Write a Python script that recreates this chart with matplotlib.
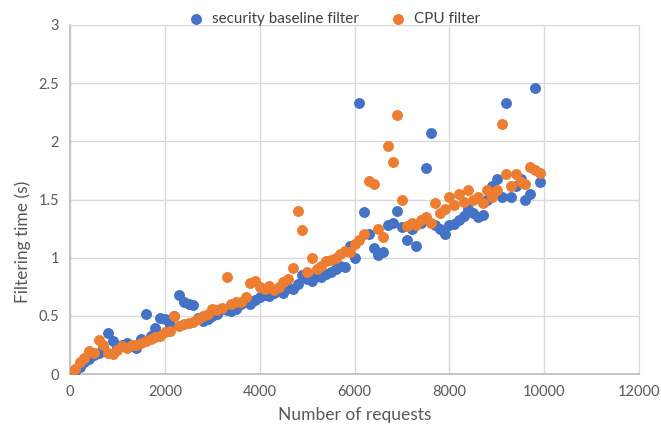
import matplotlib
matplotlib.use("Agg")
import matplotlib.pyplot as plt

# request counts (same sampling for both filters)
requests = [
    0, 100, 200, 300, 400, 500, 600, 700, 800, 900,
    1000, 1100, 1200, 1300, 1400, 1500, 1600, 1700, 1800, 1900,
    2000, 2100, 2200, 2300, 2400, 2500, 2600, 2700, 2800, 2900,
    3000, 3100, 3200, 3300, 3400, 3500, 3600, 3700, 3800, 3900,
    4000, 4100, 4200, 4300, 4400, 4500, 4600, 4700, 4800, 4900,
    5000, 5100, 5200, 5300, 5400, 5500, 5600, 5700, 5800, 5900,
    6000, 6100, 6200, 6300, 6400, 6500, 6600, 6700, 6800, 6900,
    7000, 7100, 7200, 7300, 7400, 7500, 7600, 7700, 7800, 7900,
    8000, 8100, 8200, 8300, 8400, 8500, 8600, 8700, 8800, 8900,
    9000, 9100, 9200, 9300, 9400, 9500, 9600, 9700, 9800, 9900,
]

security_baseline = [
    0.00, 0.03, 0.06, 0.10, 0.13, 0.16, 0.18, 0.22, 0.35, 0.28,
    0.22, 0.25, 0.27, 0.24, 0.22, 0.30, 0.52, 0.33, 0.40, 0.48,
    0.47, 0.42, 0.50, 0.68, 0.62, 0.60, 0.59, 0.48, 0.46, 0.47,
    0.50, 0.52, 0.56, 0.55, 0.54, 0.56, 0.60, 0.62, 0.60, 0.64,
    0.66, 0.68, 0.67, 0.70, 0.72, 0.70, 0.74, 0.73, 0.77, 0.85,
    0.82, 0.80, 0.84, 0.83, 0.86, 0.88, 0.90, 0.93, 0.92, 1.10,
    1.00, 2.33, 1.39, 1.20, 1.08, 1.02, 1.05, 1.28, 1.30, 1.40,
    1.26, 1.15, 1.25, 1.10, 1.30, 1.77, 2.07, 1.28, 1.25, 1.20,
    1.28, 1.29, 1.32, 1.36, 1.42, 1.38, 1.35, 1.37, 1.50, 1.62,
    1.68, 1.52, 2.33, 1.52, 1.62, 1.68, 1.50, 1.55, 2.46, 1.65,
]

cpu_filter = [
    0.01, 0.04, 0.10, 0.14, 0.20, 0.18, 0.29, 0.25, 0.18, 0.17,
    0.21, 0.24, 0.22, 0.25, 0.25, 0.27, 0.28, 0.30, 0.32, 0.33,
    0.36, 0.37, 0.50, 0.41, 0.43, 0.44, 0.45, 0.47, 0.50, 0.52,
    0.56, 0.55, 0.57, 0.83, 0.60, 0.62, 0.62, 0.66, 0.78, 0.80,
    0.75, 0.73, 0.76, 0.72, 0.75, 0.79, 0.82, 0.91, 1.40, 1.24,
    0.88, 1.00, 0.90, 0.93, 0.97, 0.98, 1.00, 1.03, 1.06, 1.05,
    1.12, 1.15, 1.20, 1.66, 1.63, 1.25, 1.18, 1.96, 1.82, 2.23,
    1.50, 1.27, 1.30, 1.28, 1.32, 1.35, 1.30, 1.47, 1.38, 1.42,
    1.52, 1.45, 1.55, 1.48, 1.58, 1.50, 1.52, 1.47, 1.58, 1.52,
    1.58, 2.15, 1.72, 1.62, 1.72, 1.65, 1.63, 1.78, 1.75, 1.73,
]

x_ticks = [0, 2000, 4000, 6000, 8000, 10000, 12000]
y_ticks = [0, 0.5, 1, 1.5, 2, 2.5, 3]
y_labels = ["0", "0.5", "1", "1.5", "2", "2.5", "3"]

plt.rcParams["font.family"] = ["Lato", "DejaVu Sans"]
text_gray = "#595959"
grid_gray = "#D9D9D9"

fig = plt.figure(figsize=(6.61, 4.38), dpi=100)
ax = fig.add_axes([0.106, 0.146, 0.861, 0.797])

ax.scatter(requests, security_baseline, s=62, color="#4472C4",
           label="security baseline filter", zorder=3, linewidths=0)
ax.scatter(requests, cpu_filter, s=62, color="#ED7D31",
           label="CPU filter", zorder=3, linewidths=0)

ax.set_xlim(0, 12000)
ax.set_ylim(0, 3)
ax.set_xticks(x_ticks)
ax.set_yticks(y_ticks)
ax.set_yticklabels(y_labels)
ax.grid(True, color=grid_gray, lw=1.0, zorder=0)
ax.set_axisbelow(True)
ax.tick_params(length=0, labelsize=10.5, colors=text_gray, pad=8)
for side in ("top", "right"):
    ax.spines[side].set_color(grid_gray)
for side in ("left", "bottom"):
    ax.spines[side].set_color("#BFBFBF")
    ax.spines[side].set_linewidth(1.3)

ax.set_xlabel("Number of requests", fontsize=12.5, color=text_gray, labelpad=6)
ax.set_ylabel("Filtering time (s)", fontsize=12.5, color=text_gray)
ax.yaxis.set_label_coords(-0.068, 0.38)

fig.legend(loc="upper center", bbox_to_anchor=(0.5, 1.005), ncol=2,
           frameon=False, fontsize=11, handletextpad=0.05, columnspacing=1.6,
           markerscale=1.0, labelcolor="#404040")

fig.savefig("out.png", dpi=100)
